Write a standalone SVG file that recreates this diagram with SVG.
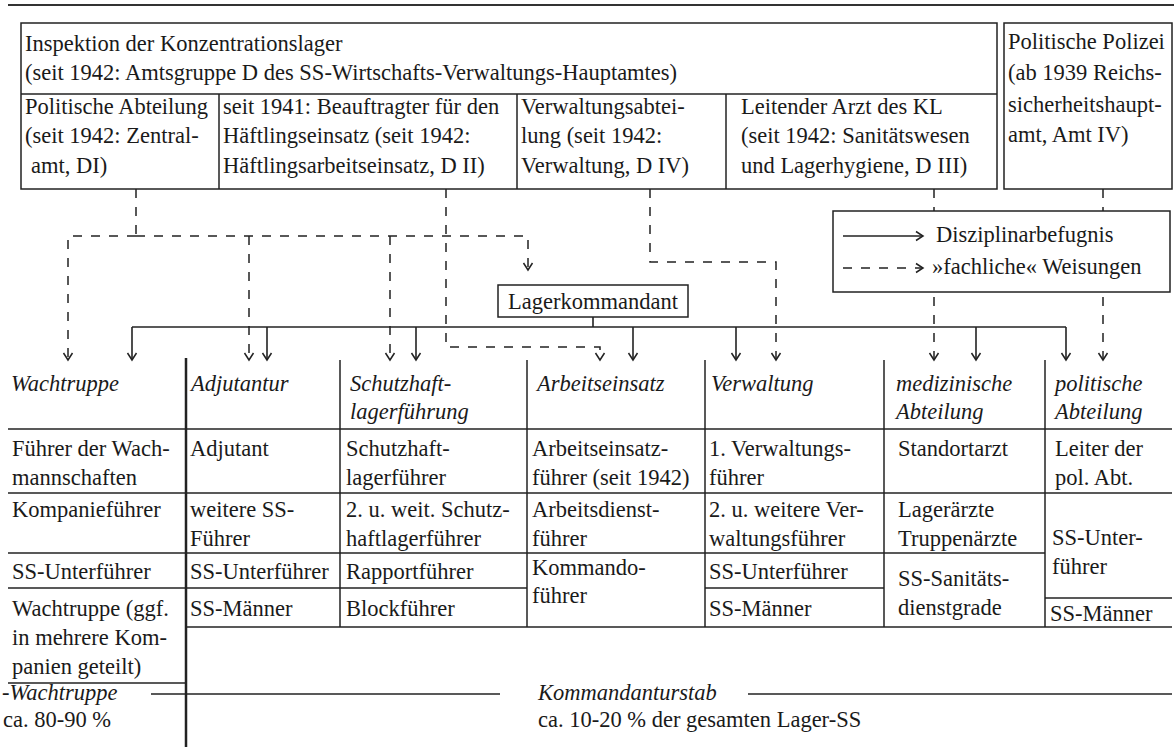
<svg xmlns="http://www.w3.org/2000/svg" width="1174" height="747" viewBox="0 0 1174 747">
<defs>
<style>
text{font-family:"Liberation Serif","DejaVu Serif",serif;font-size:22.5px;fill:#1a1a1a}
.it{font-style:italic}
.box{fill:#fff;stroke:#222;stroke-width:1.5}
.ln{stroke:#222;stroke-width:1.5;fill:none}
.thick{stroke:#222;stroke-width:2.5;fill:none}
.dash{stroke:#222;stroke-width:1.5;fill:none;stroke-dasharray:9 9}
.solid{stroke:#222;stroke-width:1.6;fill:none}
</style>
<marker id="ah" markerUnits="userSpaceOnUse" markerWidth="16" markerHeight="16" viewBox="-10 -8 12 16" refX="0" refY="0" orient="auto">
<path d="M-7,-4.5 L0,0 L-7,4.5" fill="none" stroke="#222" stroke-width="1.5" stroke-dasharray="none"/>
</marker>
</defs>
<rect width="1174" height="747" fill="#fff"/>
<line x1="8" y1="5" x2="1174" y2="5" stroke="#333" stroke-width="2"/>

<g id="inspektion">
<rect class="box" x="21" y="23" width="976" height="166"/>
<line class="ln" x1="21" y1="94" x2="997" y2="94"/>
<text x="25" y="51">Inspektion der Konzentrationslager</text>
<text x="25" y="80">(seit 1942: Amtsgruppe D des SS-Wirtschafts-Verwaltungs-Hauptamtes)</text>
</g>
<g id="politische-abteilung-di">
<line class="ln" x1="219" y1="94" x2="219" y2="189"/>
<text x="25" y="114">Politische Abteilung</text>
<text x="25" y="143">(seit 1942: Zentral-</text>
<text x="31" y="173">amt, DI)</text>
</g>
<g id="haeftlingseinsatz-dii">
<line class="ln" x1="517" y1="94" x2="517" y2="189"/>
<text x="223" y="114">seit 1941: Beauftragter für den</text>
<text x="223" y="143">Häftlingseinsatz (seit 1942:</text>
<text x="223" y="173">Häftlingsarbeitseinsatz, D II)</text>
</g>
<g id="verwaltungsabteilung-div">
<line class="ln" x1="726" y1="94" x2="726" y2="189"/>
<text x="521" y="114">Verwaltungsabtei-</text>
<text x="521" y="143">lung (seit 1942:</text>
<text x="521" y="173">Verwaltung, D IV)</text>
</g>
<g id="leitender-arzt-diii">
<text x="741" y="114">Leitender Arzt des KL</text>
<text x="741" y="143">(seit 1942: Sanitätswesen</text>
<text x="741" y="173">und Lagerhygiene, D III)</text>
</g>
<g id="politische-polizei">
<rect class="box" x="1004" y="23" width="168" height="166"/>
<text x="1008" y="49">Politische Polizei</text>
<text x="1008" y="80">(ab 1939 Reichs-</text>
<text x="1008" y="112">sicherheitshaupt-</text>
<text x="1008" y="142">amt, Amt IV)</text>
</g>

<g id="connectors">
<path class="dash" d="M136,189 V236"/>
<path class="dash" d="M136,236 H528 V270" marker-end="url(#ah)"/>
<path class="dash" d="M136,236 H68 V360" marker-end="url(#ah)"/>
<path class="dash" d="M249,236 V360" marker-end="url(#ah)"/>
<path class="dash" d="M390,236 V360" marker-end="url(#ah)"/>
<path class="dash" d="M446,189 V347 H600 V360" marker-end="url(#ah)"/>
<path class="dash" d="M650,189 V262 H776 V360" marker-end="url(#ah)"/>
<path class="dash" d="M934,189 V360" marker-end="url(#ah)"/>
<path class="dash" d="M1103,189 V360" marker-end="url(#ah)"/>
<path class="solid" d="M593,317 V327"/>
<path class="solid" d="M132,327 H1066"/>
<path class="solid" d="M132,327 V360" marker-end="url(#ah)"/>
<path class="solid" d="M267,327 V360" marker-end="url(#ah)"/>
<path class="solid" d="M416,327 V360" marker-end="url(#ah)"/>
<path class="solid" d="M633,327 V360" marker-end="url(#ah)"/>
<path class="solid" d="M736,327 V360" marker-end="url(#ah)"/>
<path class="solid" d="M976,327 V360" marker-end="url(#ah)"/>
<path class="solid" d="M1066,327 V360" marker-end="url(#ah)"/>
</g>

<g id="legend">
<rect class="box" x="833" y="211" width="337" height="81"/>
<path class="solid" d="M843,236 H923" marker-end="url(#ah)"/>
<text x="936" y="242">Disziplinarbefugnis</text>
<path class="dash" d="M843,268 H923" marker-end="url(#ah)"/>
<text x="932" y="274">»fachliche« Weisungen</text>
</g>

<g id="lagerkommandant">
<rect class="box" x="498" y="285" width="190" height="32"/>
<text x="593" y="309" text-anchor="middle">Lagerkommandant</text>
</g>

<g id="table-grid">
<line class="ln" x1="8" y1="429" x2="1172" y2="429"/>
<line class="ln" x1="8" y1="493" x2="1172" y2="493"/>
<line class="ln" x1="8" y1="553" x2="1045" y2="553"/>
<line class="ln" x1="8" y1="588" x2="527" y2="588"/>
<line class="ln" x1="705" y1="588" x2="884" y2="588"/>
<line class="ln" x1="1045" y1="598" x2="1172" y2="598"/>
<line class="ln" x1="186" y1="627" x2="1172" y2="627"/>
<line class="ln" x1="8" y1="683" x2="186" y2="683"/>
<line class="thick" x1="186" y1="358" x2="186" y2="747"/>
<line class="ln" x1="340" y1="360" x2="340" y2="627"/>
<line class="ln" x1="527" y1="360" x2="527" y2="627"/>
<line class="ln" x1="705" y1="360" x2="705" y2="627"/>
<line class="ln" x1="884" y1="360" x2="884" y2="627"/>
<line class="ln" x1="1045" y1="360" x2="1045" y2="627"/>
</g>

<g id="col-wachtruppe">
<text class="it" x="11" y="391">Wachtruppe</text>
<text x="12" y="456">Führer der Wach-</text>
<text x="12" y="485">mannschaften</text>
<text x="12" y="517">Kompanieführer</text>
<text x="12" y="579">SS-Unterführer</text>
<text x="12" y="616">Wachtruppe (ggf.</text>
<text x="12" y="645">in mehrere Kom-</text>
<text x="12" y="674">panien geteilt)</text>
</g>
<g id="col-adjutantur">
<text class="it" x="191" y="391">Adjutantur</text>
<text x="190" y="456">Adjutant</text>
<text x="190" y="517">weitere SS-</text>
<text x="190" y="546">Führer</text>
<text x="190" y="579">SS-Unterführer</text>
<text x="190" y="616">SS-Männer</text>
</g>
<g id="col-schutzhaftlagerfuehrung">
<text class="it" x="350" y="391">Schutzhaft-</text>
<text class="it" x="350" y="419">lagerführung</text>
<text x="346" y="456">Schutzhaft-</text>
<text x="346" y="485">lagerführer</text>
<text x="346" y="517">2. u. weit. Schutz-</text>
<text x="346" y="546">haftlagerführer</text>
<text x="346" y="579">Rapportführer</text>
<text x="346" y="616">Blockführer</text>
</g>
<g id="col-arbeitseinsatz">
<text class="it" x="537" y="391">Arbeitseinsatz</text>
<text x="532" y="456">Arbeitseinsatz-</text>
<text x="532" y="485">führer (seit 1942)</text>
<text x="532" y="517">Arbeitsdienst-</text>
<text x="532" y="546">führer</text>
<text x="532" y="575">Kommando-</text>
<text x="532" y="603">führer</text>
</g>
<g id="col-verwaltung">
<text class="it" x="711" y="391">Verwaltung</text>
<text x="709" y="456">1. Verwaltungs-</text>
<text x="709" y="485">führer</text>
<text x="709" y="517">2. u. weitere Ver-</text>
<text x="709" y="546">waltungsführer</text>
<text x="709" y="579">SS-Unterführer</text>
<text x="709" y="616">SS-Männer</text>
</g>
<g id="col-medizinische-abteilung">
<text class="it" x="896" y="391">medizinische</text>
<text class="it" x="896" y="419">Abteilung</text>
<text x="898" y="456">Standortarzt</text>
<text x="898" y="517">Lagerärzte</text>
<text x="898" y="546">Truppenärzte</text>
<text x="898" y="586">SS-Sanitäts-</text>
<text x="898" y="615">dienstgrade</text>
</g>
<g id="col-politische-abteilung">
<text class="it" x="1055" y="391">politische</text>
<text class="it" x="1055" y="419">Abteilung</text>
<text x="1055" y="456">Leiter der</text>
<text x="1055" y="485">pol. Abt.</text>
<text x="1052" y="545">SS-Unter-</text>
<text x="1052" y="574">führer</text>
<text x="1050" y="621">SS-Männer</text>
</g>

<g id="summary">
<text class="it" x="2" y="700">-Wachtruppe</text>
<line class="ln" x1="151" y1="694" x2="500" y2="694"/>
<text class="it" x="538" y="700">Kommandanturstab</text>
<line class="ln" x1="748" y1="694" x2="1172" y2="694"/>
<text x="3" y="727">ca. 80-90 %</text>
<text x="538" y="727">ca. 10-20 % der gesamten Lager-SS</text>
</g>
</svg>
